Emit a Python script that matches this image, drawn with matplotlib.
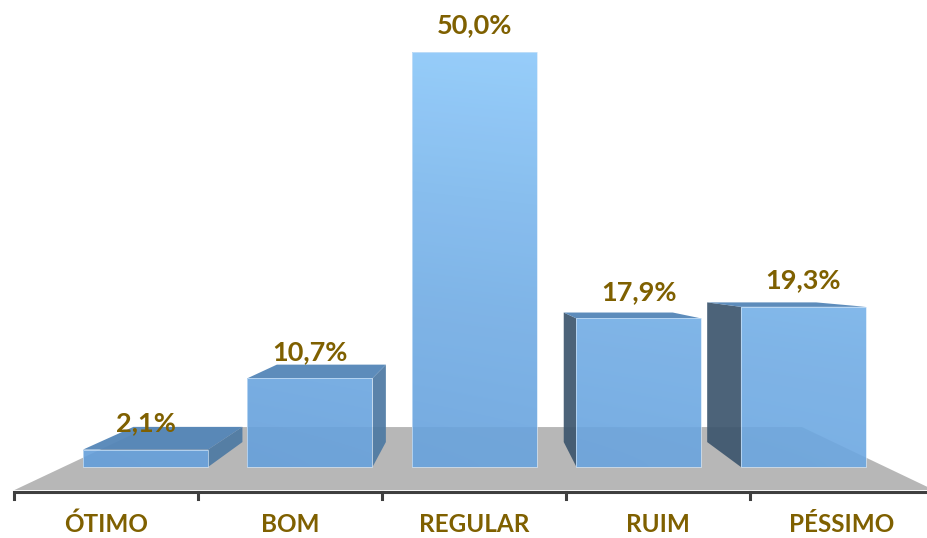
import numpy as np
import matplotlib.pyplot as plt
from matplotlib.patches import Polygon

categorias = ['ÓTIMO', 'BOM', 'REGULAR', 'RUIM', 'PÉSSIMO']
valores = [2.1, 10.7, 50.0, 17.9, 19.3]

# perspective setup (data units: x = category slot, y = percent)
vp = np.array([2.015, 23.5])     # vanishing point
s_front, s_back = 1.0, 0.872     # bar front / back faces
s_floor_front, s_floor_back = 1.118, 0.795
largura = 0.76

cor_texto = '#7F6000'
cor_topo = '#5486b8'
cor_lado_dir = '#4d79a3'
cor_lado_esq = '#3d566e'
cor_piso = '#b7b7b7'


def proj(x, y, s):
    return (vp[0] + s * (x - vp[0]), vp[1] + s * (y - vp[1]))


def face(pts):
    return [proj(x, y, s) for x, y, s in pts]


fig = plt.figure(figsize=(9.28, 5.38), dpi=100)
ax = fig.add_axes([0, 0, 1, 1])
xlim = (-0.8845, 4.757)
ylim = (-8.55, 56.27)

# floor
n = len(categorias)
piso = face([(-0.5, 0, s_floor_front), (n - 0.5, 0, s_floor_front),
             (n - 0.5, 0, s_floor_back), (-0.5, 0, s_floor_back)])
ax.add_patch(Polygon(piso, closed=True, facecolor=cor_piso, edgecolor='none', zorder=1))

# gradient used on the bar fronts (darker bottom-left, lighter top-right)
gx, gy = np.meshgrid(np.linspace(0, 1, 200), np.linspace(0, 1, 200))
t = np.clip(0.8 * gy ** 1.4 + 0.2 * gx, 0, 1)
c0 = np.array([0.39, 0.62, 0.855])
c1 = np.array([0.57, 0.81, 1.0])
grad = c0[None, None, :] * (1 - t[..., None]) + c1[None, None, :] * t[..., None]

for i, v in enumerate(valores):
    x0, x1 = i - largura / 2, i + largura / 2
    # side faces
    if x1 < vp[0]:
        lado = face([(x1, 0, s_front), (x1, v, s_front), (x1, v, s_back), (x1, 0, s_back)])
        ax.add_patch(Polygon(lado, facecolor=cor_lado_dir, edgecolor='none', alpha=0.92, zorder=2))
    elif x0 > vp[0]:
        lado = face([(x0, 0, s_front), (x0, v, s_front), (x0, v, s_back), (x0, 0, s_back)])
        ax.add_patch(Polygon(lado, facecolor=cor_lado_esq, edgecolor='none', alpha=0.92, zorder=2))
    # top face
    if v < vp[1]:
        topo = face([(x0, v, s_front), (x1, v, s_front), (x1, v, s_back), (x0, v, s_back)])
        ax.add_patch(Polygon(topo, facecolor=cor_topo, edgecolor='none', alpha=0.95, zorder=2))
    # front face with gradient
    frente = Polygon(face([(x0, 0, s_front), (x1, 0, s_front), (x1, v, s_front), (x0, v, s_front)]),
                     facecolor='none', edgecolor='#cfe4f8', linewidth=0.5, zorder=4)
    ax.add_patch(frente)
    im = ax.imshow(grad, extent=[-0.5, n - 0.5, 0, 52], origin='lower',
                   aspect='auto', alpha=0.9, zorder=3, interpolation='bilinear')
    im.set_clip_path(frente)

    # value label
    rotulo = f'{v:.1f}%'.replace('.', ',')
    ax.text(i, v + 3.2, rotulo, ha='center', va='center', fontsize=19.5,
            fontweight='bold', color=cor_texto, family='Lato', zorder=5)

# axis line with ticks on the front edge of the floor
xa0, ya = proj(-0.5, 0, s_floor_front)
xa1, _ = proj(n - 0.5, 0, s_floor_front)
ax.plot([xa0, xa1], [ya - 0.25, ya - 0.25], color='#3f3f3f', linewidth=2.2, zorder=6,
        solid_capstyle='butt')
for k in range(n + 1):
    xt, _ = proj(k - 0.5, 0, s_floor_front)
    ax.plot([xt, xt], [ya - 0.25, ya - 1.1], color='#3f3f3f', linewidth=2.2, zorder=6)

# category labels
for i, cat in enumerate(categorias):
    xl, _ = proj(i, 0, s_floor_front)
    ax.text(xl, -6.9, cat, ha='center', va='center', fontsize=17.5,
            fontweight='bold', color=cor_texto, family='Lato', zorder=5)

ax.set_xlim(*xlim)
ax.set_ylim(*ylim)
ax.axis('off')

fig.savefig('out.png', dpi=100)
